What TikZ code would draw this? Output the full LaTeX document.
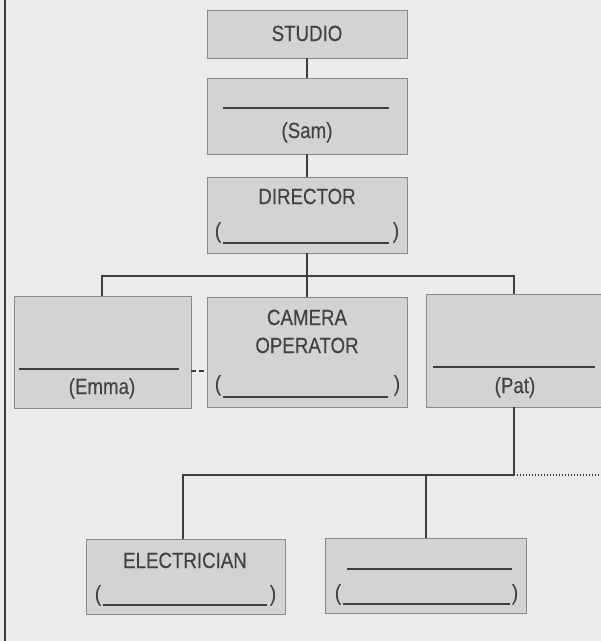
\documentclass[tikz,border=0pt]{standalone}
\usepackage{fontspec}
\setmainfont{Liberation Sans}[FakeStretch=0.85,FakeBold=0.3]
\definecolor{bg}{HTML}{EBEBEB}
\definecolor{boxfill}{HTML}{D3D3D3}
\definecolor{boxline}{HTML}{8A8A8A}
\definecolor{txt}{HTML}{424242}
\definecolor{conncol}{HTML}{3E3E3E}
\begin{document}
\begin{tikzpicture}[x=1pt,y=-1pt,
  box/.style={draw=boxline,fill=boxfill,line width=0.9pt,inner sep=0pt},
  lbl/.style={font=\fontsize{22}{26}\selectfont,text=txt,inner sep=0pt,anchor=base},
  conn/.style={draw=conncol,line width=1.6pt},
  dashconn/.style={draw=conncol,line width=1.4pt,dash pattern=on 5pt off 3pt},
  dotconn/.style={draw=conncol,line width=1.3pt,dash pattern=on 1.4pt off 1.6pt},
  blankline/.style={draw=conncol,line width=1.1pt}]
\useasboundingbox (0,0) rectangle (601,641);
\fill[bg] (0,0) rectangle (601,641);
\draw[conncol,line width=1.5pt] (5,0) -- (5,641);
% boxes
\node[box,minimum width=200pt,minimum height=48pt] (studio) at (307,34) {};
\node[box,minimum width=200pt,minimum height=76pt] (sam) at (307,116) {};
\node[box,minimum width=200pt,minimum height=76pt] (director) at (307,215) {};
\node[box,minimum width=177pt,minimum height=112pt] (emma) at (102.5,352) {};
\node[box,minimum width=200pt,minimum height=110pt] (camera) at (307,352) {};
\node[box,minimum width=200pt,minimum height=113pt] (pat) at (526,350.5) {};
\node[box,minimum width=199pt,minimum height=75pt] (elec) at (185.5,576.5) {};
\node[box,minimum width=201pt,minimum height=75pt] (blank) at (426,575.5) {};
% connectors
\coordinate (bus1) at (307,276);
\coordinate (bus2) at (514,475);
\coordinate (edge) at (601,475);
\draw[conn] (studio) -- (sam);
\draw[conn] (sam) -- (director);
\draw[conn] (director.south) -- (bus1);
\draw[conn] ([xshift=-0.5pt]emma.north) |- (bus1) -| ([xshift=-12pt]pat.north);
\draw[conn] (bus1) -- (camera.north);
\draw[conn] ([xshift=-12pt]pat.south) -- (bus2) -| ([xshift=-2.5pt]elec.north);
\draw[conn] (blank.north |- bus2) -- (blank.north);
\draw[dotconn] (bus2) -- (edge);
\draw[dashconn] ([yshift=-19pt]emma.east) -- ([yshift=-19pt]camera.west);
% texts
\node[lbl] (tstudio) at (307,41) {STUDIO};
\draw[blankline] (223,108) -- (389,108);
\node[lbl] (tsam) at (307,138) {(Sam)};
\node[lbl] (tdir) at (307,204) {DIRECTOR};
\node[lbl] (dirl) at (218,238) {(};
\node[lbl] (dirr) at (396,238) {)};
\draw[blankline] (223,243) -- (389,243);
\draw[blankline] (19,369) -- (179,369);
\node[lbl] (temma) at (102,394) {(Emma)};
\node[lbl] (tcam1) at (307,325) {CAMERA};
\node[lbl] (tcam2) at (307,353) {OPERATOR};
\node[lbl] (caml) at (218,391) {(};
\node[lbl] (camr) at (397,391) {)};
\draw[blankline] (223,397) -- (388,397);
\draw[blankline] (433,367) -- (595,367);
\node[lbl] (tpat) at (515,393) {(Pat)};
\node[lbl] (telec) at (185,568) {ELECTRICIAN};
\node[lbl] (elecl) at (98,601) {(};
\node[lbl] (elecr) at (273,601) {)};
\draw[blankline] (103,605) -- (267,605);
\draw[blankline] (347,569) -- (512,569);
\node[lbl] (blankl) at (338,600) {(};
\node[lbl] (blankr) at (515,600) {)};
\draw[blankline] (343,604) -- (510,604);
\end{tikzpicture}
\end{document}
